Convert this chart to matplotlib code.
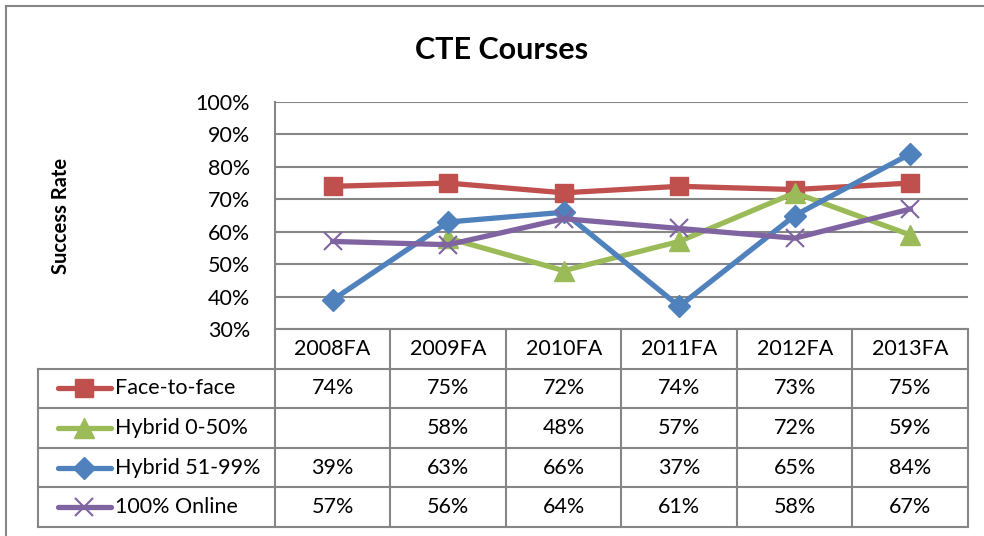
import numpy as np
import matplotlib
import matplotlib.pyplot as plt
from matplotlib.lines import Line2D
matplotlib.use('Agg')

plt.rcParams['font.family'] = ['Lato', 'DejaVu Sans']

# data
terms = ['2008FA', '2009FA', '2010FA', '2011FA', '2012FA', '2013FA']
face = [74, 75, 72, 74, 73, 75]
hyb_low = [None, 58, 48, 57, 72, 59]
hyb_high = [39, 63, 66, 37, 65, 84]
online = [57, 56, 64, 61, 58, 67]
yticks = [30, 40, 50, 60, 70, 80, 90, 100]

series = [
    ('Face-to-face', face, '#C0504D', 's', 13),
    ('Hybrid 0-50%', hyb_low, '#9BBB59', '^', 14),
    ('Hybrid 51-99%', hyb_high, '#4F81BD', 'D', 11),
    ('100% Online', online, '#8064A2', 'x', 13),
]

W, H = 984, 536
fig = plt.figure(figsize=(W / 100, H / 100), dpi=100)
grey = '#868686'
fs = 15.5

def box(l, t, r, b):
    return [l / W, 1 - b / H, (r - l) / W, (b - t) / H]

# outer chart border
fig.add_artist(Line2D([6 / W, 6 / W], [0, 1 - 6 / H], color=grey, lw=1.5))
fig.add_artist(Line2D([6 / W, 1], [1 - 6 / H, 1 - 6 / H], color=grey, lw=1.5))

ax = fig.add_axes(box(275, 102, 968, 329))
x = np.arange(len(terms))
for name, vals, col, mk, ms in series:
    y = np.array([np.nan if v is None else v for v in vals], dtype=float)
    if mk == 'x':
        ax.plot(x, y, color=col, lw=3.8, marker=mk, ms=ms, mew=1.5, zorder=3)
    else:
        ax.plot(x, y, color=col, lw=3.8, marker=mk, ms=ms, mec=col, zorder=3)

ax.set_xlim(-0.5, 5.5)
ax.set_ylim(30, 100)
ax.set_yticks(yticks)
ax.set_yticklabels([f'{t}%' for t in yticks], fontsize=fs)
ax.set_xticks([])
ax.yaxis.grid(True, color=grey, lw=1.5)
ax.set_axisbelow(True)
for s in ['top', 'right', 'bottom']:
    ax.spines[s].set_visible(False)
ax.spines['left'].set_color(grey)
ax.spines['left'].set_linewidth(1.5)
ax.tick_params(axis='y', length=0, pad=18)
ax.set_ylabel('Success Rate', fontsize=14.5, fontweight='bold')
ax.yaxis.set_label_coords(-0.295, 0.5)

fig.text(502 / W, 1 - 50 / H, 'CTE Courses', fontsize=22, fontweight='bold',
         ha='center', va='center')

# data table
tab = fig.add_axes(box(38, 329, 968, 527))
tab.set_xlim(-2.55, 5.5)
tab.set_ylim(5, 0)
tab.axis('off')
lkw = dict(color=grey, lw=1.5, clip_on=False)
tab.plot([-0.5, 5.5], [0, 0], **lkw)
for i in range(7):
    tab.plot([i - 0.5, i - 0.5], [0, 5], **lkw)
for r in range(1, 6):
    tab.plot([-2.55, 5.5], [r, r], **lkw)
tab.plot([-2.55, -2.55], [1, 5], **lkw)
for i, t in enumerate(terms):
    tab.text(i, 0.5, t, ha='center', va='center', fontsize=fs)
for r, (name, vals, col, mk, ms) in enumerate(series, start=1):
    yy = r + 0.5
    tab.plot([-2.38, -1.92], [yy, yy], color=col, lw=3.8, solid_capstyle='round', clip_on=False)
    if mk == 'x':
        tab.plot([-2.15], [yy], color=col, marker=mk, ms=ms, mew=1.5, clip_on=False)
    else:
        tab.plot([-2.15], [yy], color=col, marker=mk, ms=ms, mec=col, clip_on=False)
    tab.text(-1.88, yy, name, ha='left', va='center', fontsize=fs)
    for i, v in enumerate(vals):
        if v is not None:
            tab.text(i, yy, f'{v}%', ha='center', va='center', fontsize=fs)

fig.savefig('out.png', dpi=100)
